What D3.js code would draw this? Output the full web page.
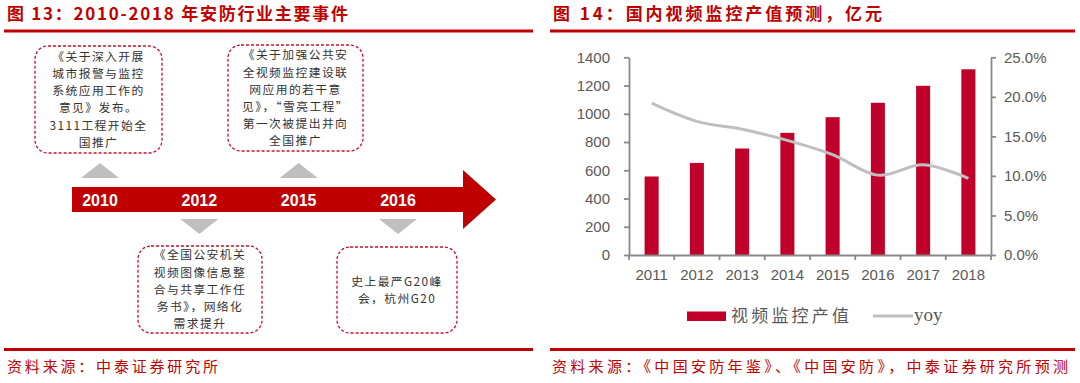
<!DOCTYPE html>
<html><head><meta charset="utf-8">
<script src="https://cdn.jsdelivr.net/npm/d3@7"></script>
<style>body{margin:0;background:#fff} svg{display:block}</style>
</head><body><svg id="c" width="1080" height="383"></svg>
<script>
// ---------- data ----------
const years = ["2011","2012","2013","2014","2015","2016","2017","2018"];
const outputValues = [556, 652, 754, 865, 976, 1078, 1198, 1315];
const yoyValues = [0.192, 0.169, 0.159, 0.145, 0.127, 0.101, 0.114, 0.097];
const leftTicks = [0, 200, 400, 600, 800, 1000, 1200, 1400];
const rightTicks = [0, 0.05, 0.10, 0.15, 0.20, 0.25];
const legendLabels = ["视频监控产值", "yoy"];

const timelineYears = ["2010", "2012", "2015", "2016"];
const eventTexts = [
  ["《关于深入开展", "城市报警与监控", "系统应用工作的", "意见》发布。", "3111工程开始全", "国推广"],
  ["《全国公安机关", "视频图像信息整", "合与共享工作任", "务书》，网络化", "需求提升"],
  ["《关于加强公共安", "全视频监控建设联", "网应用的若干意", "见》，“雪亮工程”", "第一次被提出并向", "全国推广"],
  ["史上最严G20峰", "会，杭州G20"]
];
const titles = ["图 13：2010-2018 年安防行业主要事件", "图 14：国内视频监控产值预测，亿元"];
const sources = ["资料来源：中泰证券研究所", "资料来源：《中国安防年鉴》、《中国安防》，中泰证券研究所预测"];

// ---------- setup ----------
const svg = d3.select("#c");
const RED = "#c00000";
const CJK = "'Noto Sans CJK SC', sans-serif";
const NUM = "'Liberation Sans', Arial, sans-serif";

// titles & rules
const panels = [{x0: 4, x1: 533, tx: 7, tw: 341}, {x0: 550, x1: 1075, tx: 553, tw: 329}];
panels.forEach((p, i) => {
  svg.append("text").attr("x", p.tx).attr("y", 20)
    .attr("textLength", p.tw).attr("lengthAdjust", "spacing")
    .style("font-family", CJK).style("font-size", "17px").style("font-weight", 700)
    .attr("fill", RED).text(titles[i]);
  svg.append("rect").attr("x", p.x0).attr("y", 29.5).attr("width", p.x1 - p.x0).attr("height", 3).attr("fill", RED);
  svg.append("rect").attr("x", p.x0).attr("y", 348).attr("width", p.x1 - p.x0).attr("height", 3).attr("fill", RED);
});
svg.append("text").attr("x", 7).attr("y", 372).attr("textLength", 211).attr("lengthAdjust", "spacing")
  .style("font-family", CJK).style("font-size", "15px").attr("fill", RED).text(sources[0]);
svg.append("text").attr("x", 552).attr("y", 372).attr("textLength", 516).attr("lengthAdjust", "spacing")
  .style("font-family", CJK).style("font-size", "15px").attr("fill", RED).text(sources[1]);

// ---------- left: timeline ----------
const tl = d3.scalePoint().domain(timelineYears).range([100, 398]);
const shaftTop = 187, shaftBot = 212, midY = (shaftTop + shaftBot) / 2;
svg.append("path").attr("fill", RED)
  .attr("d", `M72,${shaftTop} L463,${shaftTop} L463,170 L496,${midY} L463,229 L463,${shaftBot} L72,${shaftBot} Z`);

svg.append("g").selectAll("text").data(timelineYears).join("text")
  .attr("x", d => tl(d)).attr("y", midY + 6).attr("text-anchor", "middle")
  .style("font-family", NUM).style("font-size", "16px").style("font-weight", 700)
  .attr("fill", "#fff").text(d => d);

// triangles
svg.append("g").selectAll("path").data(timelineYears).join("path")
  .attr("fill", "#bfbfbf")
  .attr("d", (d, i) => {
    const cx = tl(d);
    return i % 2 === 0
      ? `M${cx - 19},178 L${cx + 19},178 L${cx},163 Z`
      : `M${cx - 19},219 L${cx + 19},219 L${cx},234 Z`;
  });

// event boxes
const boxes = [
  {w: 127, top: 46, bot: 153},
  {w: 124, top: 246, bot: 333},
  {w: 135, top: 45, bot: 151},
  {w: 120, top: 247, bot: 333}
];
const boxCx = [98.5, 200, 295.5, 397];
timelineYears.forEach((y, i) => {
  const b = boxes[i], cx = boxCx[i];
  svg.append("rect").attr("x", cx - b.w / 2).attr("y", b.top).attr("width", b.w).attr("height", b.bot - b.top)
    .attr("rx", 13).attr("ry", 13).attr("fill", "#fff").attr("stroke", "#c8102e")
    .attr("stroke-width", 1.3).attr("stroke-dasharray", "3,2");
  const lines = eventTexts[i];
  const lh = 17.2;
  const cy = (b.top + b.bot) / 2;
  const y0 = cy - (lines.length - 1) * lh / 2;
  svg.append("g").selectAll("text").data(lines).join("text")
    .attr("x", cx).attr("y", (d, k) => y0 + k * lh + 4.3).attr("text-anchor", "middle")
    .style("font-family", CJK).style("font-size", "11.8px").style("letter-spacing", "1.4px")
    .attr("fill", "#333").text(d => d);
});

// ---------- right: bar + line chart ----------
const x = d3.scaleBand().domain(years).range([629, 991]).paddingInner(0.69).paddingOuter(0.345);
const yL = d3.scaleLinear().domain([0, 1400]).range([255, 57.3]);
const yR = d3.scaleLinear().domain([0, 0.25]).range([255, 57.3]);

svg.append("g").selectAll("rect").data(years).join("rect")
  .attr("x", d => x(d)).attr("width", x.bandwidth())
  .attr("y", (d, i) => yL(outputValues[i])).attr("height", (d, i) => 255 - yL(outputValues[i]))
  .attr("fill", "#c0002b");

const line = d3.line().x((d, i) => x(years[i]) + x.bandwidth() / 2).y(d => yR(d)).curve(d3.curveCatmullRom.alpha(0.5));
svg.append("path").datum(yoyValues).attr("d", line).attr("fill", "none")
  .attr("stroke", "#bfbfbf").attr("stroke-width", 3);

const AX = "#898989", TXT = "#595959";
const gL = svg.append("g").attr("transform", "translate(629,0)")
  .call(d3.axisLeft(yL).tickValues(leftTicks).tickSize(5).tickSizeOuter(0).tickPadding(14).tickFormat(d3.format("d")));
const gR = svg.append("g").attr("transform", "translate(991,0)")
  .call(d3.axisRight(yR).tickValues(rightTicks).tickSize(5).tickSizeOuter(0).tickPadding(8).tickFormat(d3.format(".1%")));
const gX = svg.append("g").attr("transform", "translate(0,255)")
  .call(d3.axisBottom(x).tickSize(0).tickSizeOuter(0).tickPadding(14));
// boundary ticks for category axis
const bounds = d3.range(years.length + 1).map(i => 629 + i * x.step());
gX.selectAll("line.bt").data(bounds).join("line").attr("class", "bt")
  .attr("x1", d => d).attr("x2", d => d).attr("y1", 0).attr("y2", 5).attr("stroke", AX).attr("stroke-width", 1.8);

[gL, gR, gX].forEach(g => {
  g.select(".domain").attr("stroke", AX).attr("stroke-width", 1.8);
  g.selectAll(".tick line").attr("stroke", AX).attr("stroke-width", 1.8);
  g.selectAll(".tick text").attr("fill", TXT).style("font-family", NUM).style("font-size", "15px");
});

// legend
svg.append("rect").attr("x", 687).attr("y", 311.5).attr("width", 39).attr("height", 9.5).attr("fill", "#c0002b");
svg.append("text").attr("x", 731).attr("y", 322).attr("textLength", 118).attr("lengthAdjust", "spacing")
  .style("font-family", CJK).style("font-size", "17px").attr("fill", TXT).text(legendLabels[0]);
svg.append("line").attr("x1", 873).attr("x2", 913).attr("y1", 316).attr("y2", 316)
  .attr("stroke", "#bfbfbf").attr("stroke-width", 3);
svg.append("text").attr("x", 914).attr("y", 321).style("font-family", "'Liberation Serif', serif").style("font-size", "19px")
  .attr("fill", TXT).text(legendLabels[1]);
</script></body></html>
